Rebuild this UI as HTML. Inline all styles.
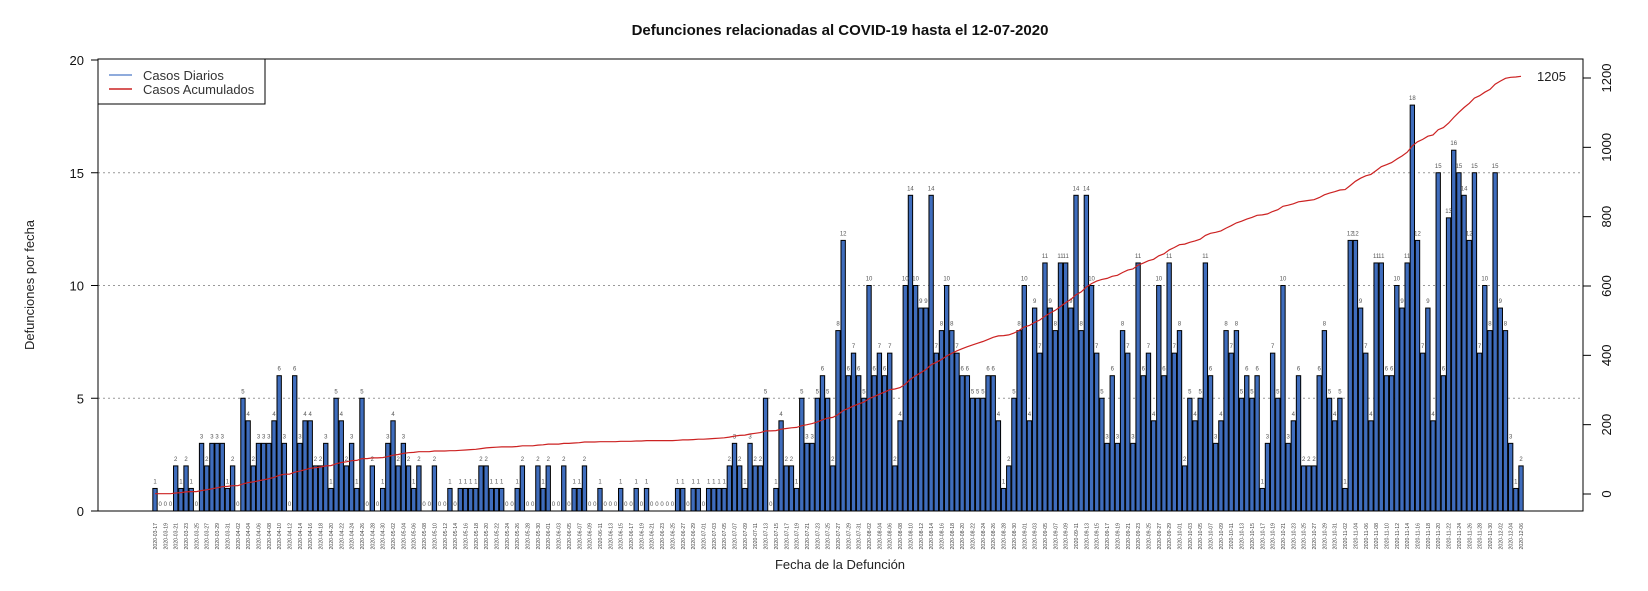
<!DOCTYPE html>
<html><head><meta charset="utf-8"><title>Defunciones COVID-19</title>
<style>
html,body{margin:0;padding:0;background:#fff;}
svg{display:block;font-family:"Liberation Sans",Arial,sans-serif;}
</style></head>
<body>
<svg id="chart" width="1648" height="591" viewBox="0 0 1648 591" xmlns="http://www.w3.org/2000/svg">
<text x="840" y="35" text-anchor="middle" font-size="15" font-weight="bold" fill="#111">Defunciones relacionadas al COVID-19 hasta el 12-07-2020</text>
<text x="840" y="569" text-anchor="middle" font-size="13" fill="#222">Fecha de la Defunción</text>
<text transform="translate(34,285) rotate(-90)" text-anchor="middle" font-size="13" fill="#222">Defunciones por fecha</text>
<g id="grid"></g><g id="bars"></g><g id="vlabels"></g><g id="xlabels"></g><g id="line"></g><g id="axes"></g>
<g>
<rect x="98" y="59" width="167" height="45" fill="#fff" stroke="#000" stroke-width="1"/>
<line x1="109" y1="75" x2="132" y2="75" stroke="#6a8fd0" stroke-width="1.5"/>
<text x="143" y="80" font-size="13" fill="#333">Casos Diarios</text>
<line x1="109" y1="89" x2="132" y2="89" stroke="#cc2222" stroke-width="1.5"/>
<text x="143" y="94" font-size="13" fill="#333">Casos Acumulados</text>
</g>
</svg>
<script>
const startDate = "2020-03-17";
const dailyDeaths = [1,0,0,0,2,1,2,1,0,3,2,3,3,3,1,2,0,5,4,2,3,3,3,4,6,3,0,6,3,4,4,2,2,3,1,5,4,2,3,1,5,0,2,
0,1,3,4,2,3,2,1,2,0,0,2,0,0,1,0,1,1,1,1,2,2,1,1,1,0,0,1,2,0,0,2,1,2,0,0,2,0,1,1,2,0,0,1,
0,0,0,1,0,0,1,0,1,0,0,0,0,0,1,1,0,1,1,0,1,1,1,1,2,3,2,1,3,2,2,5,0,1,4,2,2,1,
5,3,3,5,6,5,2,8,12,6,7,6,5,10,6,7,6,7,2,4,10,14,10,9,9,14,7,8,10,8,7,6,6,5,5,5,6,6,4,1,2,5,8,
10,4,9,7,11,9,8,11,11,9,14,8,14,10,7,5,3,6,3,8,7,3,11,6,7,4,10,6,11,7,8,2,5,4,5,11,6,3,4,8,7,8,5,6,
5,6,1,3,7,5,10,3,4,6,2,2,2,6,8,5,4,5,1,12,12,9,7,4,11,11,6,6,10,9,11,18,12,7,9,4,15,6,13,16,15,14,12,15,7,10,8,15,9,8,3,1,2];
const leftTicks = [0,5,10,15,20];
const rightTicks = [0,200,400,600,800,1000,1200];
const gridValues = [5,10,15];

const NS="http://www.w3.org/2000/svg";
const PL=98, PR=1583, PT=59, PB=511;
const X0=155, XEND=1521;
const n=dailyDeaths.length;
const step=(XEND-X0)/Math.max(1,n-1);
function xScale(i){return X0+i*step;}
function yLeft(v){return PB-(v/20)*(PB-60);}
function yRight(v){return 494-(v/1200)*(494-78);}
function mk(tag,attrs,parent){const e=document.createElementNS(NS,tag);for(const k in attrs)e.setAttribute(k,attrs[k]);parent.appendChild(e);return e;}

const grid=document.getElementById('grid');
gridValues.forEach(v=>{
  const l=mk('line',{x1:PL,x2:PR,y1:yLeft(v),y2:yLeft(v),stroke:'#999','stroke-width':1,'stroke-dasharray':'2,3'},grid);
  
  
});

const bars=document.getElementById('bars');
const vlab=document.getElementById('vlabels');
const xlab=document.getElementById('xlabels');
const bw=step*0.84;
const d0=new Date(startDate+"T00:00:00Z");
dailyDeaths.forEach((v,i)=>{
  const cx=xScale(i);
  if(v>0){
    const r=mk('rect',{x:cx-bw/2,y:yLeft(v),width:bw,height:PB-yLeft(v),fill:'#3f6dbd',stroke:'#000','stroke-width':1},bars);
    
    
  }
  const t=mk('text',{x:cx,y:yLeft(v)-5,'text-anchor':'middle','font-size':6,fill:'#555'},vlab);
  t.textContent=v;
  
  
  if(i%2===0){
    const d=new Date(d0.getTime()+i*86400000);
    const s=d.toISOString().slice(0,10);
    const tl=mk('text',{transform:'translate('+(cx+2)+',523) rotate(-90)','text-anchor':'end','font-size':5.2,fill:'#444'},xlab);
    tl.textContent=s;
    
    
  }
});

const lineG=document.getElementById('line');
let cum=0;const pts=[];
dailyDeaths.forEach((v,i)=>{cum+=v;pts.push(xScale(i).toFixed(1)+','+yRight(cum).toFixed(1));});
const pl=mk('polyline',{points:pts.join(' '),fill:'none',stroke:'#cc2222','stroke-width':1.2},lineG);


const tot=mk('text',{x:1537,y:81,'font-size':13,fill:'#222'},lineG);
tot.textContent=cum;



const axes=document.getElementById('axes');
const box=mk('rect',{x:PL,y:PT,width:PR-PL,height:PB-PT,fill:'none',stroke:'#000','stroke-width':1},axes);


leftTicks.forEach(v=>{
  const y=yLeft(v);
  mk('line',{x1:PL-7,x2:PL,y1:y,y2:y,stroke:'#000'},axes);
  const t=mk('text',{x:PL-14,y:y+5,'text-anchor':'end','font-size':13,fill:'#111'},axes);
  t.textContent=v;
  
  
});
mk('line',{x1:PR,x2:PR,y1:yRight(0),y2:yRight(1200),stroke:'#000'},axes);
rightTicks.forEach(v=>{
  const y=yRight(v);
  mk('line',{x1:PR,x2:PR+8,y1:y,y2:y,stroke:'#000'},axes);
  const t=mk('text',{transform:'translate(1611,'+y+') rotate(-90)','text-anchor':'middle','font-size':13,fill:'#111'},axes);
  t.textContent=v;
  
  
});
</script>
</body></html>
